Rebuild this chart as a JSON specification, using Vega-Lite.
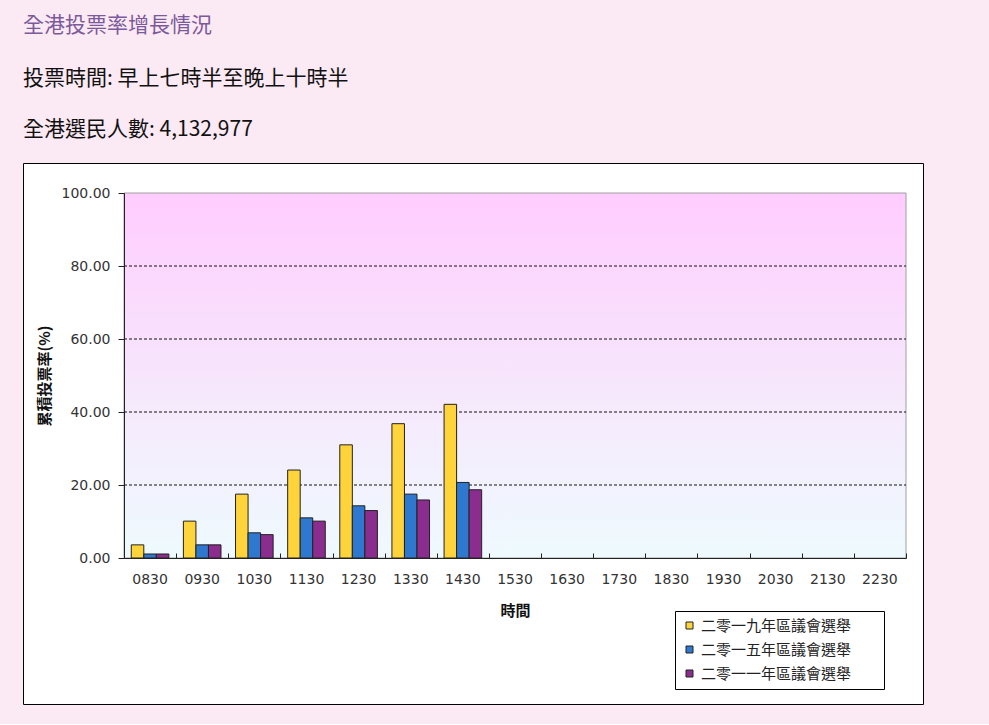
{
  "$schema": "https://vega.github.io/schema/vega-lite/v6.json",
  "width": 900,
  "height": 541,
  "padding": {"left": 23, "top": 15, "right": 66, "bottom": 20},
  "background": "#FBE9F3",
  "title": {
    "text": "全港投票率增長情況",
    "subtitle": ["投票時間: 早上七時半至晚上十時半", "全港選民人數: 4,132,977"],
    "anchor": "start",
    "frame": "group",
    "font": "Noto Sans CJK TC",
    "fontSize": 21,
    "fontWeight": "normal",
    "color": "#7B5A9B",
    "subtitleFont": "Noto Sans CJK TC",
    "subtitleFontSize": 21,
    "subtitleColor": "#111111",
    "subtitleLineHeight": 51,
    "subtitlePadding": 32,
    "offset": 23
  },
  "config": {
    "view": {"fill": "#FFFFFF", "stroke": "#000000", "strokeWidth": 1},
    "axis": {
      "labelFont": "DejaVu Sans",
      "labelFontSize": 14,
      "labelColor": "#333333",
      "titleFont": "Noto Sans CJK TC",
      "titleFontSize": 15,
      "titleFontWeight": "bold",
      "titleColor": "#111111",
      "domainColor": "#222222",
      "tickColor": "#222222"
    }
  },
  "resolve": {"axis": {"x": "independent"}},
  "datasets": {
    "turnout": [
      {"time": "0830", "election": "二零一九年區議會選舉", "pct": 3.6},
      {"time": "0930", "election": "二零一九年區議會選舉", "pct": 10.1},
      {"time": "1030", "election": "二零一九年區議會選舉", "pct": 17.5},
      {"time": "1130", "election": "二零一九年區議會選舉", "pct": 24.1},
      {"time": "1230", "election": "二零一九年區議會選舉", "pct": 31.0},
      {"time": "1330", "election": "二零一九年區議會選舉", "pct": 36.8},
      {"time": "1430", "election": "二零一九年區議會選舉", "pct": 42.1},
      {"time": "0830", "election": "二零一五年區議會選舉", "pct": 1.1},
      {"time": "0930", "election": "二零一五年區議會選舉", "pct": 3.6},
      {"time": "1030", "election": "二零一五年區議會選舉", "pct": 6.9},
      {"time": "1130", "election": "二零一五年區議會選舉", "pct": 11.0},
      {"time": "1230", "election": "二零一五年區議會選舉", "pct": 14.3},
      {"time": "1330", "election": "二零一五年區議會選舉", "pct": 17.5},
      {"time": "1430", "election": "二零一五年區議會選舉", "pct": 20.7},
      {"time": "0830", "election": "二零一一年區議會選舉", "pct": 1.1},
      {"time": "0930", "election": "二零一一年區議會選舉", "pct": 3.6},
      {"time": "1030", "election": "二零一一年區議會選舉", "pct": 6.4},
      {"time": "1130", "election": "二零一一年區議會選舉", "pct": 10.1},
      {"time": "1230", "election": "二零一一年區議會選舉", "pct": 13.0},
      {"time": "1330", "election": "二零一一年區議會選舉", "pct": 15.9},
      {"time": "1430", "election": "二零一一年區議會選舉", "pct": 18.7}
    ],
    "plot": [{}],
    "grid": [{"level": 20}, {"level": 40}, {"level": 60}, {"level": 80}]
  },
  "layer": [
    {
      "data": {"name": "plot"},
      "mark": {
        "type": "rect",
        "stroke": "#A0A0A0",
        "strokeWidth": 1,
        "fill": {
          "gradient": "linear",
          "x1": 0, "y1": 0, "x2": 0, "y2": 1,
          "stops": [
            {"offset": 0, "color": "#FFCCFF"},
            {"offset": 0.55, "color": "#F6E8FC"},
            {"offset": 1, "color": "#EEFAFE"}
          ]
        }
      },
      "encoding": {
        "x": {
          "datum": "0830",
          "type": "ordinal",
          "bandPosition": 0,
          "axis": {
            "title": null,
            "orient": "bottom",
            "offset": -146,
            "labels": false,
            "domain": false,
            "grid": false,
            "tickBand": "extent",
            "tickSize": -5,
            "minExtent": 0,
            "maxExtent": 0,
            "zindex": 1
          }
        },
        "x2": {"datum": "2230", "bandPosition": 1},
        "y": {"datum": 0, "type": "quantitative"},
        "y2": {"datum": 100}
      }
    },
    {
      "data": {"name": "grid"},
      "mark": {"type": "rule", "color": "#111111", "strokeDash": [3, 2], "strokeWidth": 1},
      "encoding": {
        "x": {"datum": "0830", "type": "ordinal", "bandPosition": 0, "axis": null},
        "x2": {"datum": "2230", "bandPosition": 1},
        "y": {"field": "level", "type": "quantitative"}
      }
    },
    {
      "data": {"name": "turnout"},
      "mark": {"type": "bar", "stroke": "#222222", "strokeWidth": 1},
      "encoding": {
        "x": {
          "field": "time",
          "type": "ordinal",
          "scale": {
            "domain": ["0830", "0930", "1030", "1130", "1230", "1330", "1430", "1530", "1630", "1730", "1830", "1930", "2030", "2130", "2230"],
            "range": [101, 883],
            "paddingInner": 0,
            "paddingOuter": 0
          },
          "axis": {
            "title": "時間",
            "orient": "bottom",
            "offset": -146,
            "labelAngle": 0,
            "ticks": false,
            "labelPadding": 14,
            "titlePadding": 17,
            "grid": false,
            "zindex": 1
          }
        },
        "xOffset": {
          "field": "election",
          "type": "nominal",
          "scale": {
            "domain": ["二零一九年區議會選舉", "二零一五年區議會選舉", "二零一一年區議會選舉"],
            "paddingInner": 0,
            "paddingOuter": 0.58
          }
        },
        "y": {
          "field": "pct",
          "type": "quantitative",
          "scale": {"domain": [0, 100], "range": [395, 30], "nice": false},
          "axis": {
            "title": "累積投票率(%)",
            "orient": "left",
            "offset": -101,
            "values": [0, 20, 40, 60, 80, 100],
            "format": ".2f",
            "tickSize": 6,
            "labelPadding": 8,
            "titlePadding": 9,
            "grid": false,
            "zindex": 1
          }
        },
        "color": {
          "field": "election",
          "type": "nominal",
          "scale": {
            "domain": ["二零一九年區議會選舉", "二零一五年區議會選舉", "二零一一年區議會選舉"],
            "range": ["#FFD43B", "#2F78D0", "#8B2C8F"]
          },
          "legend": {
            "orient": "none",
            "legendX": 652,
            "legendY": 448,
            "title": " ",
            "titleOrient": "right",
            "titlePadding": 26,
            "titleFontSize": 4,
            "strokeColor": "#000000",
            "fillColor": "#FFFFFF",
            "padding": 7,
            "rowPadding": 8,
            "symbolType": "square",
            "symbolSize": 49,
            "symbolStrokeColor": "#222222",
            "symbolStrokeWidth": 1,
            "labelFont": "Noto Sans CJK TC",
            "labelFontSize": 15,
            "labelColor": "#222222"
          }
        }
      }
    }
  ]
}
